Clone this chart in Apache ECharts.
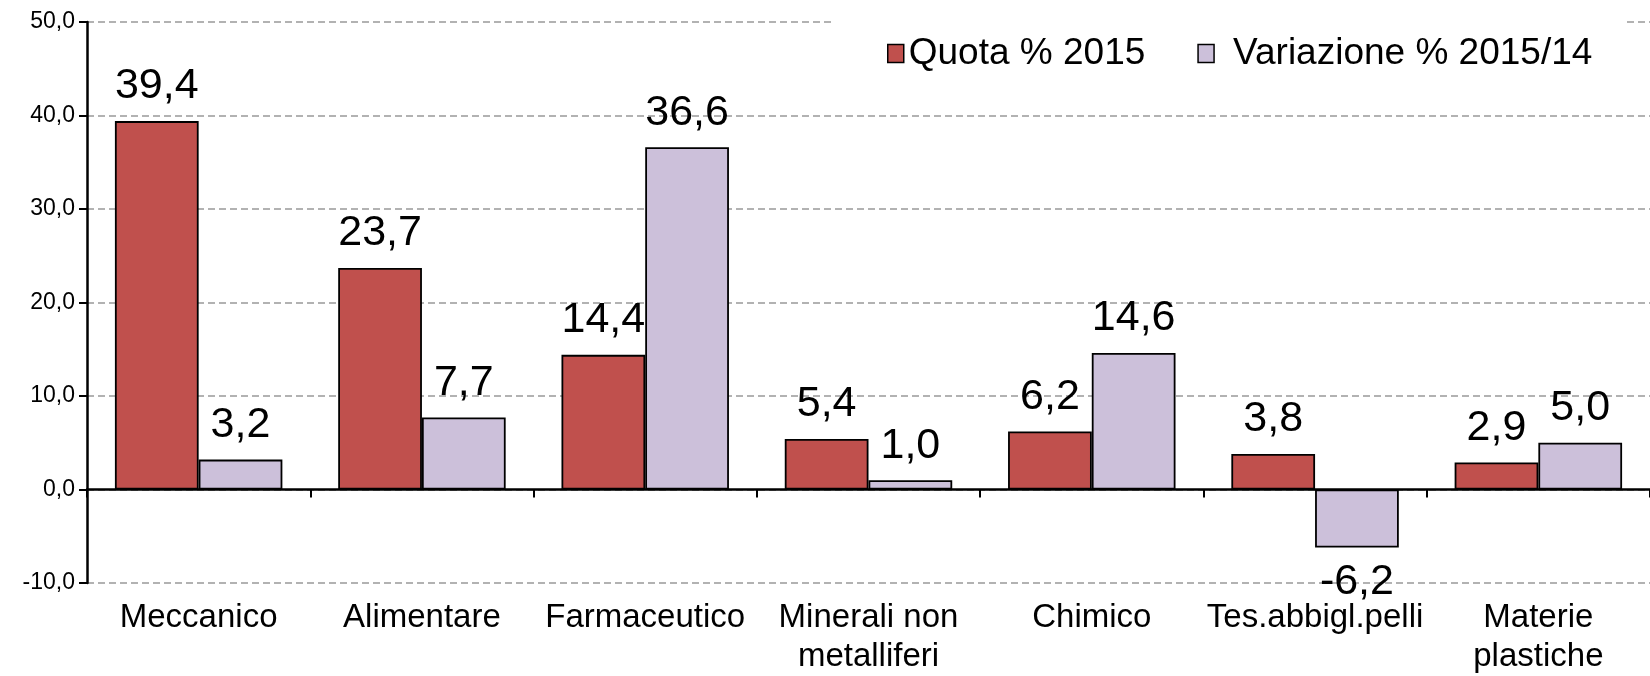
<!DOCTYPE html>
<html>
<head>
<meta charset="utf-8">
<script src="https://cdn.jsdelivr.net/npm/echarts@6/dist/echarts.min.js"></script>
<style>
  html, body { margin: 0; padding: 0; background: #fff; }
  #chart { width: 1650px; height: 676px; }
</style>
</head>
<body>
<div id="chart"></div>
<script>
const categories = [
  'Meccanico',
  'Alimentare',
  'Farmaceutico',
  'Minerali non\nmetalliferi',
  'Chimico',
  'Tes.abbigl.pelli',
  'Materie\nplastiche'
]
const quota2015 = [39.4, 23.7, 14.4, 5.4, 6.2, 3.8, 2.9]
const variazione = [3.2, 7.7, 36.6, 1.0, 14.6, -6.2, 5.0]
const seriesNames = ['Quota % 2015', 'Variazione % 2015/14']
const seriesColors = ['#C0504D', '#CCC0DA']

const fmt = v => v.toFixed(1).replace('.', ',')
const font = 'Liberation Sans, Arial, sans-serif'

const chart = echarts.init(document.getElementById('chart'))

const toData = arr => arr.map(v => ({
  value: v,
  label: { position: v < 0 ? 'bottom' : 'top' }
}))

const series = [quota2015, variazione].map((arr, i) => ({
  name: seriesNames[i],
  type: 'bar',
  xAxisIndex: 0,
  barGap: '0%',
  barCategoryGap: '25%',
  itemStyle: {
    color: seriesColors[i],
    borderColor: '#000',
    borderWidth: 1.8
  },
  label: {
    show: true,
    distance: 13,
    color: '#000',
    fontSize: 43,
    fontFamily: font,
    formatter: p => fmt(p.value)
  },
  data: toData(arr)
}))

chart.setOption({
  animation: false,
  backgroundColor: '#fff',
  grid: { left: 87, top: 22, width: 1582, bottom: 90 },
  legend: {
    left: 831,
    top: 15,
    padding: [20, 31, 20, 56],
    backgroundColor: '#fff',
    icon: 'rect',
    itemWidth: 16,
    itemHeight: 18,
    itemGap: 52,
    formatter: name => name === seriesNames[1] ? '{b|' + name + '}' : name,
    textStyle: {
      fontSize: 37,
      fontFamily: font,
      color: '#000',
      rich: { b: { fontSize: 37, fontFamily: font, color: '#000', padding: [0, 0, 0, 14] } }
    },
    data: seriesNames.map((n, i) => ({
      name: n,
      itemStyle: { color: seriesColors[i], borderColor: '#000', borderWidth: 1.5 }
    }))
  },
  xAxis: [
    {
      type: 'category',
      data: categories,
      axisLine: { onZero: true, lineStyle: { color: '#000', width: 2.5 } },
      axisTick: { show: true, length: 8, lineStyle: { color: '#000', width: 2 } },
      axisLabel: { show: false }
    },
    {
      type: 'category',
      data: categories,
      position: 'bottom',
      axisLine: { show: false, onZero: false },
      axisTick: { show: false },
      axisLabel: {
        interval: 0,
        margin: 15,
        color: '#000',
        fontSize: 33,
        lineHeight: 39,
        fontFamily: font
      }
    }
  ],
  yAxis: {
    type: 'value',
    min: -10,
    max: 50,
    interval: 10,
    axisLine: { show: true, lineStyle: { color: '#000', width: 2.5 } },
    axisTick: { show: true, length: 8, lineStyle: { color: '#000', width: 2 } },
    axisLabel: {
      margin: 12,
      color: '#000',
      fontSize: 23,
      fontFamily: font,
      formatter: v => fmt(v)
    },
    splitLine: { lineStyle: { color: '#999', type: [7, 4], width: 1.5 } }
  },
  series
})
</script>
</body>
</html>
